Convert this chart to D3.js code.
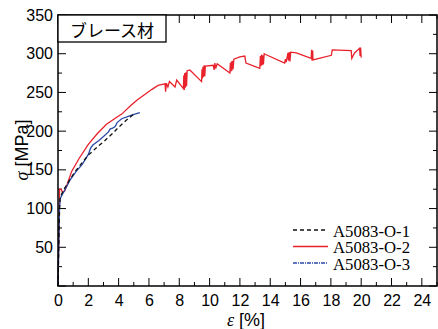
<!DOCTYPE html>
<html><head><meta charset="utf-8">
<script src="https://cdn.jsdelivr.net/npm/d3@7"></script>
<style>
body{margin:0;background:#fff;}
svg{display:block;}
</style></head>
<body>
<svg id="c" width="438" height="329"></svg>
<script>
const xTicks = [0,2,4,6,8,10,12,14,16,18,20,22,24];
const yTicks = [50,100,150,200,250,300,350];
const seriesNames = ["A5083-O-1","A5083-O-2","A5083-O-3"];
const seriesColors = ["#111111","#e8212b","#2b4aa8"];

const s1 = [[0,0],[0.05,50],[0.1,100],[0.15,115],[0.25,119],[0.4,125],[0.8,138],[1.1,147],[1.5,157],[2.0,169],[2.5,178],[3.1,188],[3.6,197],[4.0,205],[4.5,214],[5.0,222]];
const s2 = [[0,0],[0.05,60],[0.1,125],[0.2,125],[0.3,121],[0.45,123],[0.6,131],[0.9,148],[1.4,165],[2.0,183],[2.6,197],[3.2,209],[3.8,217],[4.2,222],[4.8,233],[5.2,240],[5.7,247],[6.2,254],[6.6,259],[7.06,261],[7.1,251],[7.15,262],[7.25,257],[7.35,264],[7.72,257],[7.83,266],[8.27,255],[8.3,272],[8.33,253],[8.36,275],[8.4,256],[8.44,276],[8.48,258],[8.52,278],[8.7,279],[9.47,264],[9.5,280],[9.53,268],[9.56,283],[9.6,270],[9.64,285],[9.68,271],[9.72,284],[10.24,285],[10.3,279],[10.35,288],[10.4,281],[10.5,287],[11.34,275],[11.37,288],[11.4,277],[11.43,290],[11.47,278],[11.5,291],[11.55,280],[11.6,293],[11.99,296],[12.32,297],[12.4,288],[13.31,281],[13.35,297],[13.38,284],[13.42,299],[13.46,285],[13.5,298],[13.55,286],[13.6,300],[13.7,299],[14.95,288],[15.0,293],[15.05,289],[15.17,301],[15.2,291],[15.25,302],[15.3,290],[15.35,302],[15.72,301],[16.7,294],[16.73,305],[16.76,291],[16.8,304],[16.82,292],[18.03,298],[18.09,305],[19.34,304],[19.38,294],[19.56,301],[19.89,307],[19.93,297],[19.96,308],[20.0,295]];
const s3 = [[0,0],[0.05,50],[0.1,100],[0.15,113],[0.25,117],[0.4,122],[0.8,137],[1.2,148],[1.6,157],[2.0,170],[2.15,178],[2.3,182],[2.7,188],[3.0,193],[3.33,199],[3.45,203],[3.6,204],[3.77,206],[3.9,211],[4.2,216],[4.5,218],[4.9,221],[5.4,224]];
const titleText = "ブレース材";

const L=58, R=437, T=15, B=286;
const x = d3.scaleLinear().domain([0,25]).range([L,R]);
const y = d3.scaleLinear().domain([0,350]).range([B,T]);
const svg = d3.select("#c");
const tickFont = "'Liberation Sans Narrow','Arial Narrow','Liberation Sans',sans-serif";

const xMinor = d3.range(0,26,1);
const yMinor = d3.range(0,351,25);
const tickG = svg.append("g").attr("stroke","#000").attr("stroke-width",1);
xMinor.forEach(v=>{
  const len = (v%2===0)?8:4;
  tickG.append("line").attr("x1",x(v)).attr("x2",x(v)).attr("y1",B).attr("y2",B-len);
  tickG.append("line").attr("x1",x(v)).attr("x2",x(v)).attr("y1",T).attr("y2",T+len);
});
yMinor.forEach(v=>{
  const len = (v%50===0)?8:4;
  tickG.append("line").attr("y1",y(v)).attr("y2",y(v)).attr("x1",L).attr("x2",L+len);
  tickG.append("line").attr("y1",y(v)).attr("y2",y(v)).attr("x1",R).attr("x2",R-len);
});

const xAxis = svg.append("g").attr("transform",`translate(0,${B})`)
  .call(d3.axisBottom(x).tickValues(xTicks).tickSize(0).tickPadding(9).tickFormat(d3.format("d")));
xAxis.select(".domain").remove();
xAxis.selectAll("text").attr("font-family",tickFont).attr("font-size",16).attr("fill","#000");
const yAxis = svg.append("g").attr("transform",`translate(${L},0)`)
  .call(d3.axisLeft(y).tickValues(yTicks).tickSize(0).tickPadding(5).tickFormat(d3.format("d")));
yAxis.select(".domain").remove();
yAxis.selectAll("text").attr("font-family",tickFont).attr("font-size",16).attr("fill","#000");

const line = d3.line().x(d=>x(d[0])).y(d=>y(d[1]));
const plot = svg.append("g");
plot.append("path").datum(s2).attr("d",line).attr("fill","none").attr("stroke",seriesColors[1]).attr("stroke-width",1.3);
plot.append("path").datum(s3).attr("d",line).attr("fill","none").attr("stroke",seriesColors[2]).attr("stroke-width",1.3);
plot.append("path").datum(s1).attr("d",line).attr("fill","none").attr("stroke",seriesColors[0]).attr("stroke-width",1.3).attr("stroke-dasharray","4,3");

svg.append("rect").attr("x",L).attr("y",T).attr("width",R-L).attr("height",B-T)
  .attr("fill","none").attr("stroke","#000").attr("stroke-width",1.5);

svg.append("rect").attr("x",L).attr("y",T).attr("width",108).attr("height",27)
  .attr("fill","#fff").attr("stroke","#000").attr("stroke-width",1.3);
svg.append("text").attr("x",L+54).attr("y",T+14).attr("text-anchor","middle").attr("dominant-baseline","central")
  .attr("font-family","'Noto Sans CJK JP',sans-serif").attr("font-size",17).text(titleText);

const dashes = ["4,3",null,"4,1,1,1"];
seriesNames.forEach((n,i)=>{
  const yy = 230 + i*16.5;
  const ln = svg.append("line").attr("x1",293).attr("x2",328).attr("y1",yy).attr("y2",yy)
    .attr("stroke",seriesColors[i]).attr("stroke-width",1.3);
  if(dashes[i]) ln.attr("stroke-dasharray",dashes[i]);
  svg.append("text").attr("x",333).attr("y",yy+1).attr("dominant-baseline","central")
    .attr("font-family","'Liberation Serif','Times New Roman',serif").attr("font-size",16)
    .attr("textLength",77).attr("lengthAdjust","spacingAndGlyphs").text(n);
});

const xt = svg.append("text").attr("x",246).attr("y",326).attr("text-anchor","middle")
  .attr("font-family",tickFont).attr("font-size",18);
xt.append("tspan").attr("font-family","'Liberation Serif',serif").attr("font-style","italic").text("ε");
xt.append("tspan").text(" [%]");
const yt = svg.append("text").attr("transform","translate(28,150) rotate(-90)").attr("text-anchor","middle")
  .attr("font-family",tickFont).attr("font-size",18);
yt.append("tspan").attr("font-family","'Liberation Serif',serif").attr("font-style","italic").text("σ");
yt.append("tspan").text(" [MPa]");
</script>
</body></html>
